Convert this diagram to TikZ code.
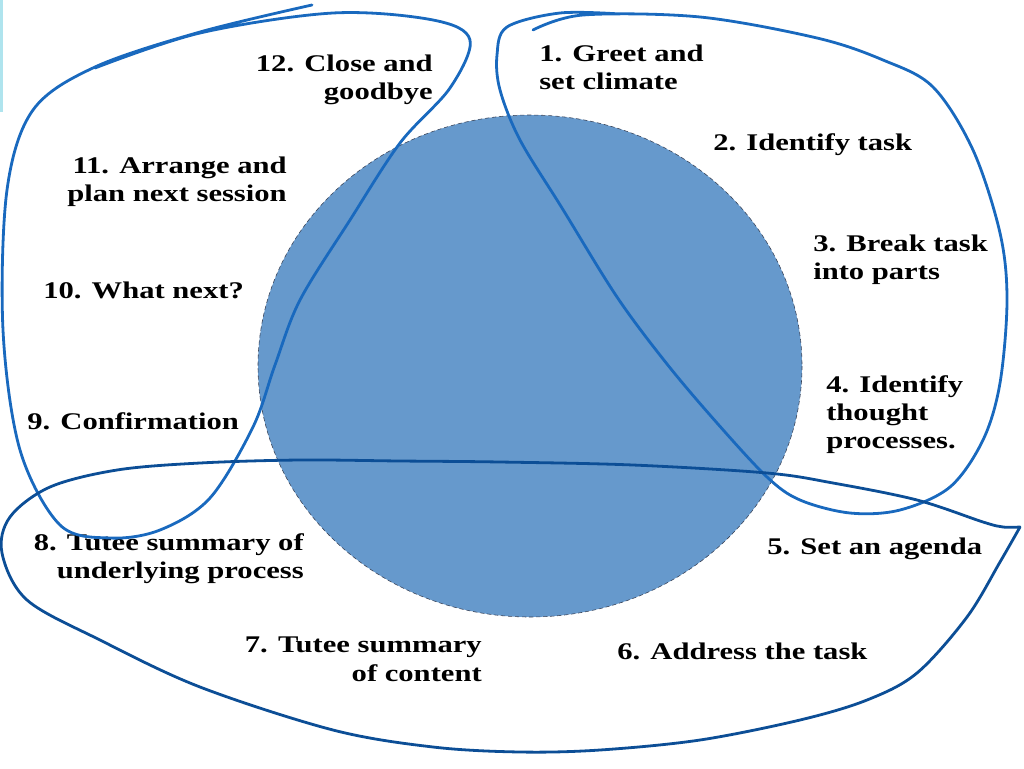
\documentclass[tikz,border=0pt]{standalone}
\usepackage{fontspec}
\setmainfont[FakeStretch=1.28]{Liberation Serif}
\usepackage{tikz}
\usetikzlibrary{positioning}
\definecolor{discblue}{RGB}{102,153,204}
\definecolor{loopblue}{RGB}{25,105,190}
\definecolor{loopdark}{RGB}{12,78,150}
\definecolor{edgegray}{RGB}{55,65,85}
\definecolor{stripcyan}{RGB}{175,228,238}
\tikzset{
	stage/.style={inner sep=0pt,font=\fontsize{17}{20}\selectfont\bfseries},
	loop/.style={loopblue,line width=0.7mm,line cap=round,line join=round},
}

\begin{document}
\begin{tikzpicture}[x=0.25mm,y=-0.25mm]
	\useasboundingbox (0,0) rectangle (1024,768);
	\fill[stripcyan] (0,0) rectangle (3,112);
	\filldraw[fill=discblue,draw=edgegray,densely dashed,line width=0.4pt] (530,366) ellipse [x radius=272,y radius=251];
	% the twelve stages
	\node[stage,anchor=north west,align=left] (greet) at (539,45) {1. Greet and\\set climate};
	\node[stage,anchor=north west] (task) at (713,133) {2. Identify task};
	\node[stage,anchor=north west,align=left] (parts) at (813,235) {3. Break task\\into parts};
	\node[stage,anchor=north west,align=left] (thought) at (826,375) {4. Identify\\thought\\processes.};
	\node[stage,anchor=north west] (agenda) at (767,538) {5. Set an agenda};
	\node[stage,anchor=north west] (address) at (617,643) {6. Address the task};
	\node[stage,anchor=north east,align=right] (content) at (482,637) {7. Tutee summary\\of content};
	\node[stage,anchor=north east,align=right] (process) at (304,533) {8. Tutee summary of\\underlying process};
	\node[stage,anchor=north west] (confirm) at (27,412) {9. Confirmation};
	\node[stage,anchor=north west] (whatnext) at (43,282) {10. What next?};
	\node[stage,anchor=north east,align=right] (arrange) at (287,157) {11. Arrange and\\plan next session};
	\node[stage,anchor=north east,align=right] (close) at (433,55) {12. Close and\\goodbye};
	% hand drawn loops
	\draw[loop] plot[smooth,tension=0.55] coordinates {(312,5) (200,32) (95,67) (33,110) (7,190) (3,330) (20,450) (60,525) (110,538) (160,530) (210,498) (253,427) (275,365) (300,300) (350,220) (400,143) (450,88) (470,40) (433,20) (333,13) (200,33) (95,68)};
	\draw[loop] plot[smooth,tension=0.55] coordinates {(533,30) (583,15) (700,17) (817,38) (883,60) (933,87) (973,150) (1000,233) (1007,300) (1000,383) (983,440) (950,487) (900,510) (850,513) (800,500) (767,477) (717,423) (667,364) (617,297) (562,208) (520,140) (500,90) (497,55) (507,27) (560,13) (620,14)};
	\draw[loop,loopdark] plot[smooth,tension=0.55] coordinates {(1020,527) (1003,527) (983,522) (917,500) (833,483) (767,473) (633,465) (500,462) (400,461) (300,460) (200,463) (117,470) (50,487) (10,517) (2,553) (27,600) (100,640) (200,687) (333,730) (433,747) (520,752) (600,750) (700,740) (800,720) (867,700) (917,673) (967,617) (1000,562) (1020,527)};
\end{tikzpicture}
\end{document}
